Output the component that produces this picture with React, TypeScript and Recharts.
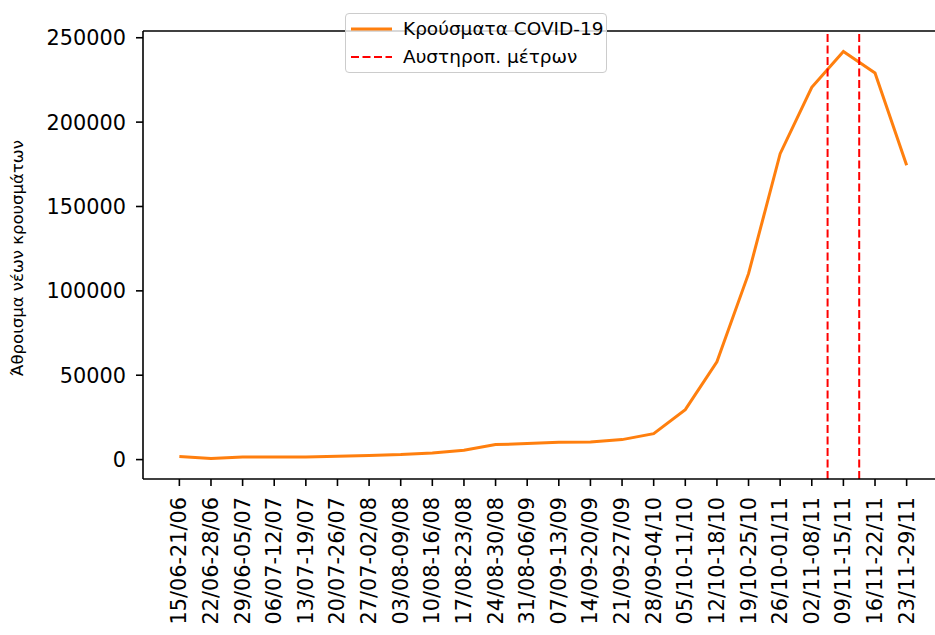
import { LineChart, Line, XAxis, YAxis, ReferenceLine } from 'recharts'

const weeks = [
  '15/06-21/06', '22/06-28/06', '29/06-05/07', '06/07-12/07', '13/07-19/07',
  '20/07-26/07', '27/07-02/08', '03/08-09/08', '10/08-16/08', '17/08-23/08',
  '24/08-30/08', '31/08-06/09', '07/09-13/09', '14/09-20/09', '21/09-27/09',
  '28/09-04/10', '05/10-11/10', '12/10-18/10', '19/10-25/10', '26/10-01/11',
  '02/11-08/11', '09/11-15/11', '16/11-22/11', '23/11-29/11',
]

const cases = [
  1780, 590, 1600, 1600, 1600, 1950, 2370, 2960, 3970, 5510,
  8890, 9480, 10250, 10490, 11850, 15400, 29600, 58000, 110200, 181300,
  220600, 241900, 229100, 174400,
]

// lockdown measures, between weeks
const measures = [20.5, 21.5]

const yTicks = [0, 50000, 100000, 150000, 200000, 250000]
const yDomain = [-11500, 254000]

const data = weeks.map((w, i) => ({ idx: i, week: w, cases: cases[i] }))

const FONT = 'DejaVu Sans'

function WeekTick(props: any) {
  const { x, y, payload } = props
  const ty = y + 9
  return (
    <text
      x={x}
      y={ty}
      transform={`rotate(-90, ${x}, ${ty})`}
      textAnchor="end"
      dominantBaseline="central"
      fontFamily={FONT}
      fontSize={20.8}
      fill="#000"
    >
      {weeks[payload.value]}
    </text>
  )
}

function LegendBox() {
  return (
    <div
      style={{
        position: 'absolute',
        left: 345,
        top: 13,
        width: 262,
        height: 60,
        boxSizing: 'border-box',
        border: '1px solid #cccccc',
        borderRadius: 4,
        background: 'rgba(255,255,255,0.8)',
        fontFamily: FONT,
        fontSize: 18.5,
      }}
    >
      <svg width={50} height={58} style={{ position: 'absolute', left: 0, top: 0 }}>
        <line x1={5} x2={46} y1={15} y2={15} stroke="#ff7f0e" strokeWidth={3} />
        <line x1={5} x2={46} y1={43} y2={43} stroke="#ff0000" strokeWidth={2} strokeDasharray="8 3.5" />
      </svg>
      <div style={{ position: 'absolute', left: 57, top: 3, lineHeight: '24px', whiteSpace: 'nowrap' }}>
        Κρούσματα COVID-19
      </div>
      <div style={{ position: 'absolute', left: 57, top: 31, lineHeight: '24px', whiteSpace: 'nowrap' }}>
        Αυστηροπ. μέτρων
      </div>
    </div>
  )
}

export default function App() {
  return (
    <div
      style={{
        position: 'absolute',
        left: 0,
        top: 0,
        width: 935,
        height: 635,
        overflow: 'hidden',
        background: '#fff',
      }}
    >
      <LineChart
        width={950}
        height={635}
        data={data}
        margin={{ top: 31, right: 7, left: 0, bottom: 0 }}
      >
        <XAxis
          dataKey="idx"
          type="number"
          domain={[-1.15, 24.15]}
          ticks={weeks.map((_, i) => i)}
          interval={0}
          height={156}
          tickSize={7}
          tick={<WeekTick />}
          axisLine={{ stroke: '#000', strokeWidth: 1.6 }}
          tickLine={{ stroke: '#000', strokeWidth: 1.6 }}
          allowDataOverflow
        />
        <YAxis
          type="number"
          domain={yDomain}
          ticks={yTicks}
          interval={0}
          width={143}
          tickSize={7}
          tickMargin={10}
          allowDataOverflow
          tick={{ fontFamily: FONT, fontSize: 20.8, fill: '#000' }}
          axisLine={{ stroke: '#000', strokeWidth: 1.6 }}
          tickLine={{ stroke: '#000', strokeWidth: 1.6 }}
          label={{
            value: 'Άθροισμα νέων κρουσμάτων',
            angle: -90,
            position: 'insideLeft',
            offset: 17,
            dy: 3,
            style: { fontFamily: FONT, fontSize: 16.5, fill: '#000', textAnchor: 'middle' },
          }}
        />
        {/* top spine */}
        <ReferenceLine y={yDomain[1]} stroke="#000" strokeWidth={1.6} />
        <Line
          type="linear"
          dataKey="cases"
          name="Κρούσματα COVID-19"
          stroke="#ff7f0e"
          strokeWidth={3}
          dot={false}
          isAnimationActive={false}
        />
        {measures.map((m) => (
          <ReferenceLine
            key={m}
            x={m}
            stroke="#ff0000"
            strokeWidth={2}
            strokeDasharray="8 3.5"
          />
        ))}
      </LineChart>
      <LegendBox />
    </div>
  )
}
